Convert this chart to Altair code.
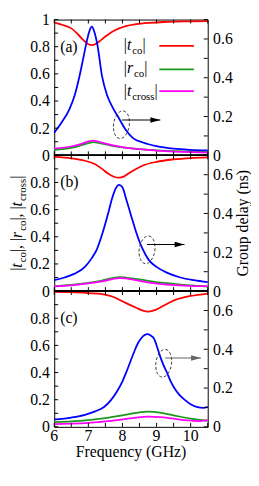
import altair as alt
import pandas as pd

FONT = "Liberation Serif, Times New Roman, serif"
W, H = 156, 138          # plot width, height of ONE panel (px)
TL = 4                   # inward tick length (px)

RED, GREEN, MAGENTA, BLUE = "#ff0000", "#1a9a1a", "#ff00ff", "#0000ff"

# ---------------- data (frequency in GHz, value) ----------------
# panel (a)
a_tco = [(6.0, .977), (6.25, .96), (6.5, .935), (6.7, .89), (6.85, .85), (7.0, .818), (7.1, .812),
         (7.2, .818), (7.35, .845), (7.5, .875), (7.7, .91), (7.9, .935), (8.1, .952), (8.4, .966),
         (8.8, .976), (9.2, .982), (9.6, .985), (10.0, .987), (10.5, .988)]
a_rco = [(6.0, .04), (6.5, .055), (6.8, .075), (7.0, .09), (7.15, .097), (7.3, .092), (7.6, .075),
         (8.0, .058), (8.5, .045), (9.0, .037), (9.5, .031), (10.0, .027), (10.5, .024)]
a_tcross = [(6.0, .05), (6.5, .065), (6.8, .085), (7.0, .102), (7.15, .108), (7.3, .1), (7.6, .08),
            (8.0, .06), (8.5, .045), (9.0, .035), (9.5, .028), (10.0, .023), (10.5, .02)]
a_gd = [(6.0, .116), (6.2, .165), (6.45, .24), (6.6, .31), (6.73, .40), (6.85, .5), (6.95, .585),
        (7.03, .64), (7.1, .663), (7.17, .64), (7.27, .565), (7.4, .41), (7.55, .31), (7.72, .245),
        (7.9, .19), (8.1, .13), (8.3, .09), (8.6, .066), (9.0, .047), (9.5, .034), (10.0, .028),
        (10.5, .025)]
# panel (b)
b_tco = [(6.0, .988), (6.5, .978), (6.9, .96), (7.2, .935), (7.4, .90), (7.6, .862), (7.75, .842),
         (7.9, .835), (8.05, .845), (8.2, .87), (8.4, .9), (8.6, .925), (9.0, .952), (9.5, .97),
         (10.0, .98), (10.5, .985)]
b_rco = [(6.0, .036), (6.5, .045), (7.0, .06), (7.4, .078), (7.7, .095), (7.9, .103), (8.1, .1),
         (8.4, .09), (8.8, .074), (9.3, .058), (9.8, .046), (10.2, .038), (10.5, .033)]
b_tcross = [(6.0, .034), (6.5, .042), (7.0, .056), (7.4, .072), (7.7, .088), (7.9, .096), (8.1, .093),
            (8.4, .08), (8.8, .062), (9.3, .048), (9.8, .04), (10.2, .037), (10.5, .037)]
b_gd = [(6.0, .057), (6.3, .07), (6.6, .09), (6.9, .125), (7.1, .17), (7.25, .215), (7.4, .29),
        (7.58, .40), (7.7, .48), (7.8, .528), (7.9, .548), (8.0, .535), (8.1, .48), (8.26, .385),
        (8.4, .305), (8.57, .225), (8.77, .161), (9.0, .125), (9.3, .095), (9.7, .07), (10.1, .056),
        (10.5, .046)]
# panel (c)
c_tco = [(6.0, .995), (6.5, .992), (7.0, .985), (7.4, .978), (7.7, .96), (8.0, .925), (8.2, .9),
         (8.4, .877), (8.6, .856), (8.75, .849), (8.9, .856), (9.06, .872), (9.3, .905), (9.53, .934),
         (9.8, .953), (10.0, .964), (10.5, .982)]
c_rco = [(6.0, .035), (6.5, .04), (7.0, .05), (7.5, .065), (8.0, .085), (8.4, .103), (8.75, .112),
         (9.1, .105), (9.5, .085), (10.0, .06), (10.5, .045)]
c_tcross = [(6.0, .02), (6.5, .024), (7.0, .03), (7.5, .04), (8.0, .055), (8.4, .068), (8.75, .075),
            (9.1, .072), (9.5, .06), (9.9, .048), (10.2, .043), (10.5, .05)]
c_gd = [(6.0, .038), (6.5, .048), (6.9, .062), (7.2, .08), (7.46, .102), (7.65, .135), (7.83, .18),
        (8.0, .235), (8.12, .285), (8.25, .345), (8.35, .39), (8.45, .43), (8.54, .454), (8.65, .473),
        (8.73, .478), (8.82, .472), (8.93, .454), (9.02, .41), (9.1, .366), (9.2, .32), (9.29, .286),
        (9.4, .24), (9.53, .198), (9.67, .165), (9.81, .142), (10.0, .117), (10.2, .102),
        (10.37, .098), (10.5, .103)]

LEFT_TICK_VALUES = [0, 0.1, 0.2, 0.3, 0.4, 0.5, 0.6, 0.7, 0.8, 0.9, 1.0]
RIGHT_TICK_VALUES = [0, 0.1, 0.2, 0.3, 0.4, 0.5, 0.6, 0.7]
FREQ_TICK_VALUES = [6, 6.5, 7, 7.5, 8, 8.5, 9, 9.5, 10, 10.5]
FREQ_LABELS = [6, 7, 8, 9, 10]
LEFT_LABELS_A = [0, 0.2, 0.4, 0.6, 0.8, 1]
LEFT_LABELS_BC = [0, 0.2, 0.4, 0.6, 0.8]
RIGHT_LABELS = [0, 0.2, 0.4, 0.6]

PANEL_LETTERS = ["(a)", "(b)", "(c)"]
ELLIPSES = [(7.97, 0.158), (8.72, 0.213), (9.21, 0.328)]         # (GHz, ns)
ARROWS = [(7.99, 9.11, 0.182), (8.72, 9.82, 0.240), (9.25, 10.30, 0.355)]
ARROW_COLORS = ["black", "black", "#666666"]

X_TITLE = "Frequency (GHz)"
Y2_TITLE = "Group delay (ns)"

# ---------------- helpers ----------------
XS = alt.Scale(domain=[6, 10.5], nice=False, zero=False)


def ls(k):   # left (magnitude) scale of panel k
    return alt.Scale(domain=[0, 1], range=[H * (k + 1), H * k], nice=False, zero=False)


def rs(k):   # right (group delay) scale of panel k
    return alt.Scale(domain=[0, 0.7], range=[H * (k + 1), H * k], nice=False, zero=False)


ELL_PATH = "M 0,-1 A 0.565,1 0 1,1 0,1 A 0.565,1 0 1,1 0,-1 Z"
HEAD_PATH = "M 1,0 L -1,-0.55 L -1,0.55 Z"

REG_W = {"|": 0.200, ",": 0.250, " ": 0.250, "c": 0.444, "o": 0.500, "r": 0.333, "s": 0.389}
ITA_W = {"t": 0.278, "r": 0.389}


def y_axis(orient, values):
    return alt.Axis(orient=orient, values=values, format="~g", labelPadding=5, ticks=False,
                    tickSize=0, domain=False, grid=False, labelFlush=False, labelOverlap=False,
                    title=None)


def curve(points, color, scale, axis=None):
    df = pd.DataFrame(points, columns=["f", "v"])
    return alt.Chart(df).mark_line(color=color, strokeWidth=1.8, interpolate="monotone").encode(
        x=alt.X("f:Q", scale=XS, axis=None),
        y=alt.Y("v:Q", scale=scale, axis=axis))


def rich(parts, x0, y0, vertical=False):
    rows, adv = [], 0.0
    for txt, ital, size, shift in parts:
        if vertical:
            rows.append({"px": x0 + shift, "py": y0 - adv, "fs": size, "txt": txt, "it": ital})
        else:
            rows.append({"px": x0 + adv, "py": y0 + shift, "fs": size, "txt": txt, "it": ital})
        table = ITA_W if ital else REG_W
        adv += size * sum(table[c] for c in txt) + (1.0 if ital else 0.0)
    return rows, adv


def text_layers(rows, angle=0):
    df = pd.DataFrame(rows)
    out = []
    for ital in (0, 1):
        sub = df[df["it"] == ital]
        if len(sub) == 0:
            continue
        out.append(alt.Chart(sub).mark_text(
            align="left", baseline="alphabetic", font=FONT,
            fontStyle="italic" if ital else "normal", angle=angle, color="black").encode(
            x=alt.X("px:Q", scale=None, axis=None),
            y=alt.Y("py:Q", scale=None, axis=None),
            size=alt.Size("fs:Q", scale=None, legend=None),
            text="txt:N"))
    return out


T_CO = [("|", 0, 16, 0), ("t", 1, 16, 0), ("co", 0, 11, 4), ("|", 0, 16, 0)]
R_CO = [("|", 0, 16, 0), ("r", 1, 16, 0), ("co", 0, 11, 4), ("|", 0, 16, 0)]
T_CROSS = [("|", 0, 16, 0), ("t", 1, 16, 0), ("cross", 0, 11, 4), ("|", 0, 16, 0)]
SEP = [(", ", 0, 16, 0)]


def legend_layers():
    names = [T_CO, R_CO, T_CROSS]
    colors = [RED, GREEN, MAGENTA]
    baselines = [31.2, 54.8, 77.5]
    line_y = [26.7, 50.7, 72.8]
    rows = []
    for parts, yb in zip(names, baselines):
        r, _ = rich(parts, 70.7, yb)
        rows += r
    seg = pd.DataFrame({"x1": [106.8] * 3, "x2": [141.9] * 3, "y": line_y, "col": colors})
    lines = alt.Chart(seg).mark_rule(strokeWidth=1.8).encode(
        x=alt.X("x1:Q", scale=None, axis=None), x2="x2:Q",
        y=alt.Y("y:Q", scale=None, axis=None), color=alt.Color("col:N", scale=None, legend=None))
    return text_layers(rows) + [lines]


def title_layers():
    full = T_CO + SEP + R_CO + SEP + T_CROSS
    _, total = rich(full, 0, 0)
    rows, _ = rich(full, -33, 1.5 * H + total / 2, vertical=True)
    right = alt.Chart(pd.DataFrame({"txt": [Y2_TITLE]})).mark_text(
        align="center", baseline="alphabetic", font=FONT, fontSize=16, angle=270,
        color="black").encode(x=alt.value(W + 41), y=alt.value(1.5 * H), text="txt:N")
    return text_layers(rows, angle=270) + [right]


def x_axis_layers():
    lab = pd.DataFrame({"f": FREQ_LABELS, "txt": [str(v) for v in FREQ_LABELS]})
    labels = alt.Chart(lab).mark_text(
        align="center", baseline="top", font=FONT, fontSize=16, color="black").encode(
        x=alt.X("f:Q", scale=XS, axis=None), y=alt.value(3 * H + 1), text="txt:N")
    title = alt.Chart(pd.DataFrame({"txt": [X_TITLE]})).mark_text(
        align="center", baseline="top", font=FONT, fontSize=16, color="black").encode(
        x=alt.value(W / 2), y=alt.value(3 * H + 18), text="txt:N")
    return [labels, title]


def frame_layers():
    xt = pd.DataFrame({"f": FREQ_TICK_VALUES})
    out = []
    for k in range(4):
        y1 = k * H - (TL if k > 0 else 0)
        y2 = k * H + (TL if k < 3 else 0)
        out.append(alt.Chart(xt).mark_rule(color="black", strokeWidth=1).encode(
            x=alt.X("f:Q", scale=XS, axis=None), y=alt.value(y1), y2=alt.value(y2)))
    for k in (1, 2):
        out.append(alt.Chart(xt).mark_rule(color="black", strokeWidth=1).encode(
            x=alt.value(0), x2=alt.value(W), y=alt.value(k * H)))
    return out


def panel_layers(k, tco, rco, tcross, gd, left_vals):
    L, R = ls(k), rs(k)
    layers = [
        curve(tco, RED, L, axis=y_axis("left", left_vals)),
        curve(rco, GREEN, L),
        curve(tcross, MAGENTA, L),
        curve(gd, BLUE, R, axis=y_axis("right", RIGHT_LABELS)),
    ]
    lt = pd.DataFrame({"t": LEFT_TICK_VALUES})
    rt = pd.DataFrame({"t": RIGHT_TICK_VALUES})
    layers.append(alt.Chart(lt).mark_rule(color="black", strokeWidth=1).encode(
        y=alt.Y("t:Q", scale=L, axis=None), x=alt.value(0), x2=alt.value(TL)))
    layers.append(alt.Chart(rt).mark_rule(color="black", strokeWidth=1).encode(
        y=alt.Y("t:Q", scale=R, axis=None), x=alt.value(W), x2=alt.value(W - TL)))
    layers.append(alt.Chart(pd.DataFrame({"txt": [PANEL_LETTERS[k]]})).mark_text(
        align="left", baseline="middle", font=FONT, fontSize=16, color="black").encode(
        x=alt.value(6), y=alt.value(k * H + 0.2 * H), text="txt:N"))
    ef, eg = ELLIPSES[k]
    layers.append(alt.Chart(pd.DataFrame({"f": [ef], "g": [eg]})).mark_point(
        shape=ELL_PATH, size=800, filled=False, color="#333333", strokeWidth=0.9,
        strokeDash=[3, 2], angle=8, opacity=1).encode(
        x=alt.X("f:Q", scale=XS, axis=None), y=alt.Y("g:Q", scale=R, axis=None)))
    f1, f2, ag = ARROWS[k]
    adf = pd.DataFrame({"f1": [f1], "f2": [f2], "g": [ag]})
    layers.append(alt.Chart(adf).mark_rule(color=ARROW_COLORS[k], strokeWidth=1.1).encode(
        x=alt.X("f1:Q", scale=XS, axis=None), x2="f2:Q", y=alt.Y("g:Q", scale=R, axis=None)))
    layers.append(alt.Chart(adf).mark_point(
        shape=HEAD_PATH, size=100, filled=True, color=ARROW_COLORS[k], opacity=1, xOffset=-5,
        strokeWidth=0).encode(
        x=alt.X("f2:Q", scale=XS, axis=None), y=alt.Y("g:Q", scale=R, axis=None)))
    return layers


all_layers = []
all_layers += panel_layers(0, a_tco, a_rco, a_tcross, a_gd, LEFT_LABELS_A)
all_layers += panel_layers(1, b_tco, b_rco, b_tcross, b_gd, LEFT_LABELS_BC)
all_layers += panel_layers(2, c_tco, c_rco, c_tcross, c_gd, LEFT_LABELS_BC)
all_layers += frame_layers()
all_layers += legend_layers()
all_layers += title_layers()
all_layers += x_axis_layers()

chart = alt.layer(*all_layers).resolve_scale(y="independent").properties(
    width=W, height=3 * H, padding={"left": 0, "top": 0, "right": 0, "bottom": 0}
).configure_view(stroke="black", strokeWidth=1).configure_axis(
    labelFont=FONT, labelFontSize=16, labelColor="black", titleFont=FONT, titleFontSize=16,
    titleFontWeight="normal", titleColor="black")

chart.save("out.html", embed_options={"renderer": "svg", "actions": False})
